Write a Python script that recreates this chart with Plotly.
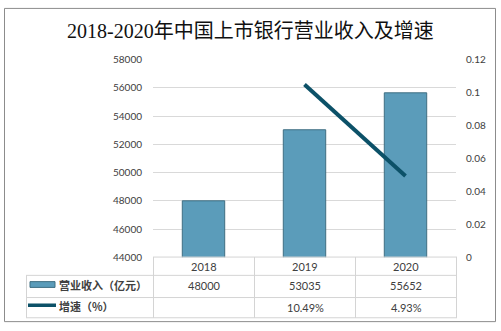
import plotly.graph_objects as go

# ---- data ----
years = ["2018", "2019", "2020"]
revenue = [48000, 53035, 55652]          # 营业收入（亿元）
growth = [None, 0.1049, 0.0493]          # 增速
growth_labels = ["", "10.49%", "4.93%"]
revenue_name = "营业收入（亿元）"
growth_name = "增速（%）"
title_text = "2018-2020年中国上市银行营业收入及增速"
left_ticks = [44000, 46000, 48000, 50000, 52000, 54000, 56000, 58000]
right_ticks = [0, 0.02, 0.04, 0.06, 0.08, 0.1, 0.12]

W, H = 501, 331
def px(x):
    return x / W
def py(y):
    return 1 - y / H

BAR = "#5b9cba"
BAR_EDGE = "#3f6e82"
LINE = "#0c5168"
TXT = "#404040"
GRID = "#d9d9d9"
CJK = "Noto Sans CJK SC"
NUM = "Lato, Noto Sans CJK SC"

plot_l, plot_r = 153, 456
plot_t, plot_b = 55.7, 260.7

fig = go.Figure()
fig.add_trace(go.Bar(x=years, y=revenue, name=revenue_name, width=0.42,
                     marker=dict(color=BAR, line=dict(color=BAR_EDGE, width=1)),
                     yaxis="y", showlegend=False))
fig.add_trace(go.Scatter(x=years, y=growth, name=growth_name, mode="lines",
                         line=dict(color=LINE, width=4), yaxis="y2",
                         connectgaps=False, showlegend=False))

fig.update_layout(
    width=W, height=H, margin=dict(l=0, r=0, t=0, b=0),
    paper_bgcolor="white", plot_bgcolor="white",
    showlegend=False,
    xaxis=dict(domain=[px(plot_l), px(plot_r)], showticklabels=False,
               showgrid=False, zeroline=False, showline=False, ticks=""),
    yaxis=dict(domain=[py(plot_b), py(plot_t)], range=[44000, 58000],
               tickvals=left_ticks, ticktext=[str(v) for v in left_ticks],
               showgrid=True, gridcolor=GRID, gridwidth=1, zeroline=False,
               showline=False, ticks="", ticklabelstandoff=10,
               tickfont=dict(family=NUM, size=10, color=TXT)),
    yaxis2=dict(overlaying="y", side="right", range=[0, 0.12],
                tickvals=right_ticks, ticktext=[("%g" % v) for v in right_ticks],
                showgrid=False, zeroline=False, showline=False, ticks="",
                ticklabelstandoff=9,
                tickfont=dict(family=NUM, size=10, color=TXT)),
)

shapes = []
# outer frame
shapes.append(dict(type="rect", xref="paper", yref="paper",
                   x0=px(4.5), x1=px(495.5), y0=py(327.5), y1=py(2.5),
                   line=dict(color="#8c8c8c", width=1)))
# table grid
tcol = "#d4d4d4"
cols = [153, 254, 355, 456]
for i, x in enumerate(cols):
    shapes.append(dict(type="line", xref="paper", yref="paper",
                       x0=px(x + 0.5), x1=px(x + 0.5), y0=py(260.5), y1=py(323.5),
                       line=dict(color=tcol, width=1)))
shapes.append(dict(type="line", xref="paper", yref="paper",
                   x0=px(26.5), x1=px(26.5), y0=py(279.5), y1=py(323.5),
                   line=dict(color=tcol, width=1)))
shapes.append(dict(type="line", xref="paper", yref="paper",
                   x0=px(153), x1=px(457), y0=py(260.5), y1=py(260.5),
                   line=dict(color=tcol, width=1)))
for y in [279.5, 302.5, 323.5]:
    shapes.append(dict(type="line", xref="paper", yref="paper",
                       x0=px(26), x1=px(457), y0=py(y), y1=py(y),
                       line=dict(color=tcol, width=1)))
# legend keys in table
shapes.append(dict(type="rect", xref="paper", yref="paper",
                   x0=px(30), x1=px(55), y0=py(292), y1=py(286),
                   fillcolor=BAR, line=dict(color=BAR_EDGE, width=1)))
shapes.append(dict(type="line", xref="paper", yref="paper",
                   x0=px(28), x1=px(56), y0=py(310.5), y1=py(310.5),
                   line=dict(color=LINE, width=3.5)))
fig.update_layout(shapes=shapes)

anns = []
anns.append(dict(text=title_text, xref="paper", yref="paper", x=px(250), y=py(26),
                 showarrow=False, xanchor="center", yanchor="middle",
                 font=dict(family="Liberation Serif, Noto Sans CJK SC", size=20, color="#111111")))
centers = [(cols[i] + cols[i + 1]) / 2 + 0.5 for i in range(3)]
for i, yr in enumerate(years):
    anns.append(dict(text=yr, xref="paper", yref="paper", x=px(centers[i]), y=py(270),
                     showarrow=False, xanchor="center", yanchor="middle",
                     font=dict(family=NUM, size=11, color=TXT)))
    anns.append(dict(text=str(revenue[i]), xref="paper", yref="paper", x=px(centers[i]), y=py(290.5),
                     showarrow=False, xanchor="center", yanchor="middle",
                     font=dict(family=NUM, size=11, color=TXT)))
    if growth_labels[i]:
        anns.append(dict(text=growth_labels[i], xref="paper", yref="paper", x=px(centers[i]), y=py(312.5),
                         showarrow=False, xanchor="center", yanchor="middle",
                         font=dict(family=NUM, size=11, color=TXT)))
anns.append(dict(text="<b>" + revenue_name + "</b>", xref="paper", yref="paper", x=px(57), y=py(290),
                 showarrow=False, xanchor="left", yanchor="middle",
                 font=dict(family=CJK, size=11, color=TXT)))
anns.append(dict(text="<b>" + growth_name + "</b>", xref="paper", yref="paper", x=px(57), y=py(311.5),
                 showarrow=False, xanchor="left", yanchor="middle",
                 font=dict(family=CJK, size=11, color=TXT)))
fig.update_layout(annotations=anns)

fig.write_html("out.html")
